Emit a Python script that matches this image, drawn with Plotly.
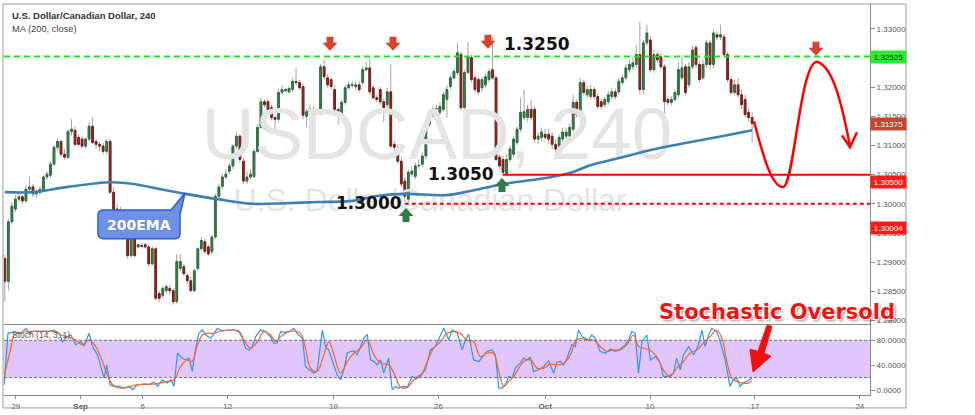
import plotly.graph_objects as go

# ---------------- data ----------------
bar_open = [
    1.2906, 1.2867, 1.2969, 1.2991, 1.3008, 1.3012, 1.3005, 1.3025, 1.3029, 1.3017,
    1.3020, 1.3025, 1.3046, 1.3049, 1.3068, 1.3097, 1.3107, 1.3085, 1.3080, 1.3124,
    1.3126, 1.3114, 1.3111, 1.3099, 1.3111, 1.3133, 1.3107, 1.3102, 1.3099, 1.3090,
    1.3107, 1.3020, 1.2991, 1.2983, 1.2986, 1.2954, 1.2911, 1.2940, 1.2926, 1.2928,
    1.2930, 1.2926, 1.2897, 1.2923, 1.2846, 1.2843, 1.2851, 1.2855, 1.2851, 1.2832,
    1.2889, 1.2892, 1.2877, 1.2868, 1.2851, 1.2889, 1.2923, 1.2935, 1.2926, 1.2918,
    1.2943, 1.3013, 1.3030, 1.3046, 1.3056, 1.3065, 1.3099, 1.3116, 1.3073, 1.3039,
    1.3046, 1.3047, 1.3090, 1.3131, 1.3175, 1.3175, 1.3165, 1.3148, 1.3145, 1.3191,
    1.3194, 1.3192, 1.3196, 1.3210, 1.3208, 1.3201, 1.3150, 1.3157, 1.3162, 1.3158,
    1.3157, 1.3235, 1.3216, 1.3213, 1.3196, 1.3162, 1.3150, 1.3174, 1.3199, 1.3203,
    1.3201, 1.3204, 1.3208, 1.3230, 1.3233, 1.3199, 1.3182, 1.3196, 1.3175, 1.3170,
    1.3192, 1.3102, 1.3094, 1.3073, 1.3039, 1.3008, 1.3051, 1.3047, 1.3065, 1.3068,
    1.3082, 1.3136, 1.3153, 1.3162, 1.3157, 1.3162, 1.3179, 1.3201, 1.3216, 1.3225,
    1.3256, 1.3165, 1.3225, 1.3251, 1.3216, 1.3213, 1.3199, 1.3204, 1.3213, 1.3230,
    1.3216, 1.3080, 1.3076, 1.3051, 1.3076, 1.3085, 1.3105, 1.3128, 1.3148, 1.3148,
    1.3162, 1.3162, 1.3111, 1.3114, 1.3119, 1.3119, 1.3116, 1.3102, 1.3099, 1.3111,
    1.3116, 1.3116, 1.3128, 1.3174, 1.3153, 1.3208, 1.3187, 1.3184, 1.3196, 1.3184,
    1.3175, 1.3170, 1.3175, 1.3184, 1.3192, 1.3192, 1.3208, 1.3216, 1.3230, 1.3235,
    1.3239, 1.3256, 1.3196, 1.3276, 1.3281, 1.3230, 1.3256, 1.3252, 1.3235, 1.3179,
    1.3174, 1.3179, 1.3187, 1.3216, 1.3235, 1.3204, 1.3235, 1.3268, 1.3239, 1.3216,
    1.3239, 1.3276, 1.3239, 1.3290, 1.3286, 1.3286, 1.3256, 1.3213, 1.3191, 1.3204,
    1.3187, 1.3179, 1.3157, 1.3148]
bar_high = [
    1.2913, 1.2974, 1.3003, 1.3015, 1.3018, 1.3015, 1.3032, 1.3046, 1.3034, 1.3025,
    1.3030, 1.3049, 1.3056, 1.3073, 1.3100, 1.3112, 1.3111, 1.3094, 1.3128, 1.3145,
    1.3133, 1.3119, 1.3116, 1.3114, 1.3140, 1.3148, 1.3111, 1.3107, 1.3105, 1.3111,
    1.3111, 1.3029, 1.3000, 1.2995, 1.2991, 1.2960, 1.2947, 1.2943, 1.2931, 1.2933,
    1.2933, 1.2930, 1.2928, 1.2926, 1.2851, 1.2858, 1.2863, 1.2860, 1.2855, 1.2914,
    1.2914, 1.2896, 1.2882, 1.2875, 1.2889, 1.2926, 1.2943, 1.2940, 1.2930, 1.2947,
    1.3017, 1.3034, 1.3051, 1.3059, 1.3070, 1.3102, 1.3124, 1.3119, 1.3080, 1.3056,
    1.3059, 1.3094, 1.3136, 1.3182, 1.3179, 1.3181, 1.3170, 1.3153, 1.3196, 1.3203,
    1.3199, 1.3201, 1.3215, 1.3233, 1.3213, 1.3206, 1.3163, 1.3169, 1.3167, 1.3163,
    1.3240, 1.3247, 1.3222, 1.3218, 1.3204, 1.3165, 1.3179, 1.3204, 1.3210, 1.3210,
    1.3210, 1.3210, 1.3235, 1.3244, 1.3251, 1.3204, 1.3187, 1.3201, 1.3182, 1.3199,
    1.3239, 1.3107, 1.3102, 1.3080, 1.3046, 1.3059, 1.3063, 1.3071, 1.3076, 1.3088,
    1.3141, 1.3162, 1.3167, 1.3170, 1.3174, 1.3192, 1.3204, 1.3222, 1.3233, 1.3276,
    1.3261, 1.3230, 1.3278, 1.3256, 1.3222, 1.3218, 1.3218, 1.3223, 1.3232, 1.3286,
    1.3220, 1.3085, 1.3082, 1.3085, 1.3100, 1.3116, 1.3133, 1.3182, 1.3196, 1.3170,
    1.3179, 1.3167, 1.3123, 1.3131, 1.3128, 1.3128, 1.3123, 1.3111, 1.3119, 1.3131,
    1.3131, 1.3138, 1.3187, 1.3179, 1.3216, 1.3213, 1.3203, 1.3204, 1.3201, 1.3189,
    1.3181, 1.3184, 1.3194, 1.3199, 1.3198, 1.3216, 1.3223, 1.3240, 1.3247, 1.3251,
    1.3273, 1.3312, 1.3281, 1.3307, 1.3288, 1.3264, 1.3261, 1.3259, 1.3240, 1.3184,
    1.3184, 1.3196, 1.3244, 1.3256, 1.3240, 1.3244, 1.3271, 1.3273, 1.3244, 1.3247,
    1.3281, 1.3281, 1.3298, 1.3295, 1.3307, 1.3291, 1.3261, 1.3218, 1.3213, 1.3216,
    1.3196, 1.3187, 1.3165, 1.3158]
bar_low = [
    1.2832, 1.2851, 1.2964, 1.2986, 1.3003, 1.3000, 1.3001, 1.3020, 1.3012, 1.3010,
    1.3015, 1.3022, 1.3041, 1.3044, 1.3065, 1.3092, 1.3080, 1.3076, 1.3076, 1.3117,
    1.3099, 1.3099, 1.3095, 1.3095, 1.3107, 1.3102, 1.3094, 1.3090, 1.3085, 1.3085,
    1.3017, 1.2983, 1.2974, 1.2977, 1.2948, 1.2906, 1.2908, 1.2908, 1.2923, 1.2925,
    1.2923, 1.2892, 1.2894, 1.2834, 1.2831, 1.2838, 1.2846, 1.2844, 1.2827, 1.2829,
    1.2884, 1.2877, 1.2863, 1.2848, 1.2848, 1.2885, 1.2919, 1.2914, 1.2911, 1.2913,
    1.2940, 1.3008, 1.3025, 1.3042, 1.3051, 1.3059, 1.3094, 1.3071, 1.3034, 1.3034,
    1.3042, 1.3044, 1.3087, 1.3128, 1.3165, 1.3158, 1.3143, 1.3128, 1.3141, 1.3187,
    1.3191, 1.3189, 1.3192, 1.3203, 1.3196, 1.3145, 1.3131, 1.3153, 1.3155, 1.3152,
    1.3152, 1.3213, 1.3199, 1.3196, 1.3157, 1.3136, 1.3145, 1.3170, 1.3196, 1.3199,
    1.3196, 1.3191, 1.3203, 1.3227, 1.3187, 1.3179, 1.3174, 1.3170, 1.3140, 1.3165,
    1.3095, 1.3090, 1.3068, 1.3029, 1.3003, 1.3003, 1.3046, 1.3042, 1.3059, 1.3063,
    1.3076, 1.3131, 1.3148, 1.3157, 1.3152, 1.3157, 1.3148, 1.3196, 1.3213, 1.3220,
    1.3160, 1.3162, 1.3222, 1.3208, 1.3191, 1.3187, 1.3192, 1.3199, 1.3208, 1.3213,
    1.3073, 1.3059, 1.3047, 1.3047, 1.3071, 1.3080, 1.3100, 1.3123, 1.3143, 1.3141,
    1.3143, 1.3105, 1.3102, 1.3107, 1.3109, 1.3102, 1.3094, 1.3076, 1.3090, 1.3105,
    1.3111, 1.3111, 1.3123, 1.3148, 1.3148, 1.3186, 1.3182, 1.3179, 1.3179, 1.3162,
    1.3162, 1.3165, 1.3170, 1.3179, 1.3179, 1.3187, 1.3203, 1.3211, 1.3225, 1.3230,
    1.3233, 1.3187, 1.3187, 1.3271, 1.3225, 1.3225, 1.3242, 1.3230, 1.3140, 1.3169,
    1.3169, 1.3174, 1.3182, 1.3213, 1.3186, 1.3199, 1.3230, 1.3233, 1.3208, 1.3213,
    1.3233, 1.3230, 1.3233, 1.3281, 1.3281, 1.3251, 1.3208, 1.3186, 1.3186, 1.3182,
    1.3162, 1.3148, 1.3141, 1.3105]
bar_close = [
    1.2867, 1.2969, 1.2996, 1.3008, 1.3012, 1.3005, 1.3025, 1.3029, 1.3017, 1.3020,
    1.3025, 1.3046, 1.3051, 1.3068, 1.3097, 1.3107, 1.3085, 1.3080, 1.3124, 1.3128,
    1.3102, 1.3102, 1.3099, 1.3111, 1.3133, 1.3105, 1.3102, 1.3099, 1.3090, 1.3107,
    1.3020, 1.2988, 1.2979, 1.2986, 1.2954, 1.2911, 1.2943, 1.2911, 1.2930, 1.2927,
    1.2926, 1.2897, 1.2923, 1.2838, 1.2838, 1.2855, 1.2858, 1.2851, 1.2832, 1.2901,
    1.2901, 1.2880, 1.2868, 1.2851, 1.2885, 1.2923, 1.2937, 1.2918, 1.2914, 1.2943,
    1.3013, 1.3029, 1.3046, 1.3051, 1.3065, 1.3099, 1.3116, 1.3076, 1.3039, 1.3046,
    1.3051, 1.3090, 1.3131, 1.3175, 1.3170, 1.3162, 1.3148, 1.3145, 1.3191, 1.3196,
    1.3196, 1.3198, 1.3210, 1.3208, 1.3199, 1.3152, 1.3158, 1.3162, 1.3158, 1.3157,
    1.3235, 1.3218, 1.3204, 1.3201, 1.3162, 1.3150, 1.3174, 1.3199, 1.3204, 1.3204,
    1.3204, 1.3196, 1.3230, 1.3233, 1.3192, 1.3182, 1.3179, 1.3175, 1.3165, 1.3192,
    1.3099, 1.3097, 1.3073, 1.3034, 1.3013, 1.3054, 1.3056, 1.3065, 1.3066, 1.3082,
    1.3136, 1.3157, 1.3162, 1.3163, 1.3167, 1.3187, 1.3196, 1.3216, 1.3227, 1.3259,
    1.3165, 1.3225, 1.3252, 1.3213, 1.3196, 1.3192, 1.3213, 1.3218, 1.3227, 1.3216,
    1.3076, 1.3065, 1.3054, 1.3076, 1.3094, 1.3111, 1.3128, 1.3157, 1.3158, 1.3162,
    1.3148, 1.3111, 1.3116, 1.3123, 1.3114, 1.3111, 1.3102, 1.3094, 1.3114, 1.3123,
    1.3123, 1.3131, 1.3174, 1.3153, 1.3208, 1.3191, 1.3196, 1.3196, 1.3184, 1.3167,
    1.3167, 1.3179, 1.3187, 1.3192, 1.3184, 1.3210, 1.3216, 1.3233, 1.3239, 1.3242,
    1.3256, 1.3196, 1.3276, 1.3293, 1.3230, 1.3256, 1.3247, 1.3235, 1.3175, 1.3174,
    1.3179, 1.3191, 1.3230, 1.3233, 1.3191, 1.3235, 1.3264, 1.3239, 1.3213, 1.3239,
    1.3276, 1.3239, 1.3293, 1.3286, 1.3290, 1.3256, 1.3213, 1.3191, 1.3204, 1.3187,
    1.3170, 1.3153, 1.3148, 1.31375]

# 200 moving average (bar position, value)
ma_pos = [0, 8.3, 17.9, 30.2, 36.7, 44.4, 51.5, 60.6, 70.6, 80.0, 89.4, 99.1, 105.6,
          113.6, 126.1, 132.7, 142.1, 151.8, 158.3, 161.7, 166.3, 176.0, 185.4, 194.8,
          204.4, 213.0]
ma_val = [1.3020, 1.3020, 1.3029, 1.3037, 1.3034, 1.3025, 1.3017, 1.3008, 1.3000, 1.3001,
          1.3003, 1.3005, 1.3013, 1.3017, 1.3015, 1.3022, 1.3034, 1.3042, 1.3049, 1.3054,
          1.3065, 1.3080, 1.3094, 1.3105, 1.3116, 1.3126]

# Stochastic %K
stoch_k_pos = [
    -0.2, 0.9, 2.7, 4.6, 6.0, 6.9, 8.4, 10.3, 12.2, 14.0,
    15.5, 16.4, 17.8, 18.8, 20.2, 21.6, 22.6, 24.0, 25.0, 26.4,
    27.3, 28.3, 29.0, 30.0, 31.1, 32.6, 34.0, 35.4, 36.4, 37.8,
    39.7, 41.1, 42.5, 43.5, 44.9, 46.3, 47.3, 48.2, 49.2, 50.6,
    51.5, 52.5, 53.4, 54.4, 55.3, 56.3, 57.2, 58.7, 59.6, 60.6,
    62.0, 63.4, 65.3, 66.7, 67.7, 68.6, 69.6, 70.5, 71.5, 72.9,
    74.3, 75.7, 76.7, 77.6, 78.6, 80.0, 81.4, 82.4, 83.3, 84.8,
    85.7, 86.7, 88.1, 89.0, 90.5, 91.4, 92.3, 93.8, 94.7, 95.7,
    96.6, 97.6, 98.5, 99.5, 100.4, 101.4, 102.3, 103.3, 104.2, 105.2,
    106.1, 107.1, 108.0, 109.4, 110.4, 111.3, 112.3, 113.7, 114.7, 116.1,
    117.0, 118.5, 119.9, 121.3, 122.7, 124.2, 125.1, 126.0, 126.5, 127.5,
    128.9, 130.3, 131.3, 132.2, 133.6, 135.1, 137.4, 138.9, 139.8, 140.8,
    141.7, 142.7, 143.6, 144.6, 145.5, 146.9, 147.9, 148.8, 149.8, 150.7,
    152.2, 153.6, 155.0, 156.4, 157.4, 158.3, 159.3, 160.2, 161.6, 162.6,
    163.5, 164.5, 165.4, 166.4, 167.3, 168.3, 169.7, 171.1, 172.6, 174.0,
    175.4, 176.8, 177.8, 178.7, 179.7, 180.6, 181.6, 183.0, 184.0, 185.4,
    186.8, 187.7, 189.2, 190.6, 191.5, 192.5, 193.4, 194.9, 196.3, 197.7,
    198.7, 199.6, 200.6, 201.5, 202.9, 203.9, 205.3, 206.7, 207.7, 208.6,
    209.6, 210.5, 211.5, 212.9]
stoch_k = [
    8.5, 91.2, 93.9, 91.2, 99.2, 91.2, 94.9, 93.9, 93.9, 96.5,
    91.2, 77.9, 85.9, 88.5, 72.5, 77.9, 71.5, 91.2, 69.9, 56.5,
    40.5, 19.2, 40.5, 8.5, 5.9, 5.9, 3.2, 5.9, 0.5, 8.5,
    9.6, 8.5, 12.8, 5.9, 16.5, 11.2, 16.5, 5.9, 59.2, 51.2,
    48.5, 51.2, 29.9, 67.2, 91.2, 96.5, 88.5, 83.2, 91.2, 99.2,
    94.9, 96.5, 96.5, 93.9, 83.2, 67.2, 64.5, 69.9, 85.9, 96.5,
    93.9, 85.9, 75.2, 75.2, 93.9, 92.8, 94.9, 99.2, 91.2, 83.2,
    37.9, 32.5, 27.2, 29.9, 96.5, 69.9, 64.5, 40.5, 24.5, 16.5,
    32.5, 59.2, 61.9, 62.9, 56.5, 69.9, 83.2, 89.6, 48.5, 45.9,
    40.5, 48.5, 27.2, 51.2, 0.5, 5.9, 3.2, 5.9, 4.3, 21.9,
    19.2, 24.5, 32.5, 64.5, 69.9, 88.5, 99.2, 88.5, 80.5, 96.5,
    92.8, 64.5, 80.5, 89.6, 48.5, 45.9, 61.9, 64.5, 56.5, 3.2,
    3.2, 8.5, 21.9, 19.2, 35.2, 43.2, 51.2, 48.5, 52.3, 29.9,
    32.5, 37.9, 46.9, 27.2, 44.8, 45.9, 40.5, 51.2, 72.5, 69.9,
    96.5, 85.9, 83.2, 80.5, 88.5, 83.2, 61.9, 59.2, 66.1, 61.9,
    66.1, 72.5, 80.5, 93.9, 91.2, 27.2, 77.9, 88.5, 48.5, 53.9,
    43.2, 21.9, 21.9, 27.2, 51.2, 32.5, 56.5, 69.9, 56.5, 72.5,
    96.5, 69.9, 88.5, 99.2, 93.9, 77.9, 48.5, 5.9, 16.5, 19.2,
    5.9, 11.2, 13.9, 19.2]

# Stochastic %D
stoch_d_pos = [
    -0.2, 1.7, 2.7, 4.6, 7.4, 11.2, 14.0, 16.0, 17.8, 20.2,
    22.1, 24.0, 25.9, 27.8, 29.2, 30.7, 32.6, 34.9, 36.8, 39.7,
    42.5, 45.4, 48.2, 50.1, 52.0, 53.4, 54.9, 56.3, 57.7, 59.6,
    61.5, 64.4, 66.7, 68.1, 70.0, 72.0, 73.8, 75.7, 77.2, 78.6,
    80.5, 82.4, 84.3, 85.7, 87.1, 89.0, 90.9, 92.4, 93.8, 95.7,
    97.6, 99.5, 101.4, 103.3, 105.2, 107.1, 109.4, 111.3, 112.8, 114.7,
    116.6, 118.5, 120.4, 122.2, 124.2, 126.0, 128.0, 129.8, 131.7, 133.6,
    135.5, 137.4, 139.3, 140.8, 142.2, 143.6, 145.0, 146.5, 147.9, 149.8,
    151.7, 153.6, 155.5, 157.4, 159.3, 161.2, 162.6, 164.0, 165.9, 167.8,
    169.7, 171.6, 173.5, 175.4, 177.3, 179.2, 180.6, 182.0, 183.9, 185.8,
    187.7, 189.6, 191.5, 193.4, 195.3, 197.2, 199.1, 201.0, 202.9, 204.4,
    205.8, 207.2, 208.6, 210.5, 211.9, 212.9]
stoch_d = [
    21.9, 67.2, 88.5, 92.8, 93.9, 94.9, 93.9, 88.5, 85.9, 80.5,
    72.5, 80.5, 69.9, 45.9, 24.5, 8.5, 3.2, 4.3, 7.5, 9.6,
    9.6, 12.8, 16.5, 37.9, 48.5, 45.9, 72.5, 88.5, 91.2, 91.2,
    94.9, 96.5, 94.9, 80.5, 67.2, 77.9, 93.9, 88.5, 77.9, 85.9,
    92.8, 94.9, 91.2, 67.2, 35.2, 29.9, 56.5, 77.9, 56.5, 27.2,
    45.9, 59.2, 67.2, 80.5, 56.5, 43.2, 40.5, 21.9, 4.3, 4.3,
    16.5, 21.9, 45.9, 67.2, 77.9, 91.2, 93.9, 91.2, 80.5, 77.9,
    53.9, 59.2, 59.2, 29.9, 5.9, 13.9, 21.9, 35.2, 45.9, 48.5,
    35.2, 35.2, 41.6, 40.5, 43.2, 56.5, 77.9, 83.2, 80.5, 80.5,
    69.9, 61.9, 64.5, 64.5, 72.5, 88.5, 69.9, 67.2, 64.5, 53.9,
    32.5, 21.9, 35.2, 45.9, 59.2, 64.5, 75.2, 85.9, 96.5, 83.2,
    45.9, 19.2, 13.9, 11.2, 11.2, 14.9]

date_tick_pos = [3.1, 21.6, 39.3, 63.5, 93.7, 123.6, 154.0, 183.9, 213.8, 243.7]
date_tick_text = ["29", "<b>Sep</b>", "6", "12", "19", "26", "<b>Oct</b>", "10", "17", "24"]
price_ticks = [1.280, 1.285, 1.290, 1.295, 1.300, 1.305, 1.310, 1.315, 1.320, 1.325, 1.330]
stoch_ticks = [0, 40, 80]
stoch_band = [20, 80]

resistance_level = 1.32525
support_level = 1.3050
floor_level = 1.3000
last_price = 1.31375
floor_label_price = 1.30004
support_start_bar = 142
floor_start_bar = 114

# ---------------- layout geometry (pixels of the 975x415 picture) ----------------
L_PX, R_PX, T_PX, B_PX = 4, 870, 4, 397
W_PX, H_PX = R_PX - L_PX, B_PX - T_PX
SPLIT_PX = 326
split = (B_PX - SPLIT_PX) / H_PX
x_range = [-0.25, 246.6]
p_range = [1.27932, 1.33427]
s_range = [-8, 105.6]


def pp(x, y):
    return f"{(x - L_PX) / W_PX:.5f},{(B_PX - y) / H_PX:.5f}"


def poly(points):
    s = "M" + pp(*points[0])
    for p in points[1:]:
        s += " L" + pp(*p)
    return s + " Z"


def down_arrow(cx, top):
    return poly([(cx - 3.5, top), (cx + 3.5, top), (cx + 3.5, top + 6), (cx + 7.5, top + 6),
                 (cx, top + 14), (cx - 7.5, top + 6), (cx - 3.5, top + 6)])


def up_arrow(cx, top):
    return poly([(cx, top), (cx + 7.5, top + 8), (cx + 3.5, top + 8), (cx + 3.5, top + 14),
                 (cx - 3.5, top + 14), (cx - 3.5, top + 8), (cx - 7.5, top + 8)])


def paper_x(x):
    return (x - L_PX) / W_PX


def paper_y(y):
    return (B_PX - y) / H_PX


fig = go.Figure()

# watermark (drawn first, under the candles)
wm_x = (x_range[0] + x_range[1]) / 2
span = p_range[1] - p_range[0]
fig.add_trace(go.Scatter(
    x=[wm_x], y=[p_range[1] - span * (141 - T_PX) / (SPLIT_PX - T_PX)], mode="text",
    text=["USDCAD, 240"], textposition="middle center",
    textfont=dict(family="Liberation Sans", size=73, color="#e4e4e4"),
    hoverinfo="skip", showlegend=False))
fig.add_trace(go.Scatter(
    x=[x_range[0] + (x_range[1] - x_range[0]) * (430 - L_PX) / W_PX],
    y=[p_range[1] - span * (204 - T_PX) / (SPLIT_PX - T_PX)], mode="text",
    text=["U.S. Dollar/Canadian Dollar"], textposition="middle center",
    textfont=dict(family="Liberation Sans", size=32, color="#e4e4e4"),
    hoverinfo="skip", showlegend=False))

bar_pos = list(range(len(bar_close)))

# wicks
fig.add_trace(go.Candlestick(
    x=bar_pos, open=bar_open, high=bar_high, low=bar_low, close=bar_close,
    increasing=dict(line=dict(color="#a3a3a3", width=1), fillcolor="rgba(0,0,0,0)"),
    decreasing=dict(line=dict(color="#a3a3a3", width=1), fillcolor="rgba(0,0,0,0)"),
    hoverinfo="skip", showlegend=False))
# bodies
body_top = [max(o, c) for o, c in zip(bar_open, bar_close)]
body_bot = [min(o, c) for o, c in zip(bar_open, bar_close)]
fig.add_trace(go.Candlestick(
    x=bar_pos, open=bar_open, high=body_top, low=body_bot, close=bar_close,
    increasing=dict(line=dict(color="#2c6b3c", width=1), fillcolor="#3d7f4f"),
    decreasing=dict(line=dict(color="#7a1d17", width=1), fillcolor="#8e2a22"),
    hoverinfo="skip", showlegend=False))

# moving average
fig.add_trace(go.Scatter(x=ma_pos, y=ma_val, mode="lines", line=dict(color="#3d80b4", width=2.6, shape="spline"),
                         hoverinfo="skip", showlegend=False))

# stochastic
fig.add_trace(go.Scatter(x=stoch_k_pos, y=stoch_k, mode="lines", xaxis="x2", yaxis="y2",
                         line=dict(color="#2f95f2", width=1.2), hoverinfo="skip", showlegend=False))
fig.add_trace(go.Scatter(x=stoch_d_pos, y=stoch_d, mode="lines", xaxis="x2", yaxis="y2",
                         line=dict(color="#f2662a", width=1.2, shape="spline"), hoverinfo="skip", showlegend=False))

shapes = []
# stochastic band
shapes.append(dict(type="rect", xref="x2", yref="y2", x0=x_range[0], x1=x_range[1],
                   y0=stoch_band[0], y1=stoch_band[1], fillcolor="#e2c5fa", line=dict(width=0), layer="below"))
for lvl in stoch_band:
    shapes.append(dict(type="line", xref="x2", yref="y2", x0=x_range[0], x1=x_range[1], y0=lvl, y1=lvl,
                       line=dict(color="#6f6f6f", width=1, dash="3px,2px")))
# horizontal levels
shapes.append(dict(type="line", xref="x", yref="y", x0=x_range[0], x1=x_range[1],
                   y0=resistance_level, y1=resistance_level, line=dict(color="#1ee61e", width=2, dash="6px,4px")))
shapes.append(dict(type="line", xref="x", yref="y", x0=support_start_bar, x1=x_range[1],
                   y0=support_level, y1=support_level, line=dict(color="#ff0000", width=2)))
shapes.append(dict(type="line", xref="x", yref="y", x0=floor_start_bar, x1=x_range[1],
                   y0=floor_level, y1=floor_level, line=dict(color="#ff0000", width=2, dash="4px,3px")))

# marker arrows
for cx, top in [(330, 37), (393, 37), (488, 35), (816, 42)]:
    shapes.append(dict(type="path", xref="paper", yref="paper", path=down_arrow(cx, top),
                       fillcolor="#d6432f", line=dict(width=0)))
for cx, top in [(406, 209), (502, 179)]:
    shapes.append(dict(type="path", xref="paper", yref="paper", path=up_arrow(cx, top),
                       fillcolor="#2e7a4a", line=dict(width=0)))

# hand-drawn projection curve
curve = ("M" + pp(754, 122) + " C" + pp(762, 152) + " " + pp(771, 188) + " " + pp(783, 188)
         + " C" + pp(794, 188) + " " + pp(800, 62) + " " + pp(817, 62)
         + " C" + pp(833, 66) + " " + pp(842, 105) + " " + pp(850, 147))
shapes.append(dict(type="path", xref="paper", yref="paper", path=curve, line=dict(color="#ff0000", width=2.5)))
shapes.append(dict(type="path", xref="paper", yref="paper",
                   path="M" + pp(842, 136) + " L" + pp(850, 148) + " L" + pp(857, 133),
                   line=dict(color="#ff0000", width=2.5)))

# 200EMA callout
callout = ("M" + pp(104, 211) + " L" + pp(171, 211) + " L" + pp(185, 194) + " L" + pp(180, 216)
           + " L" + pp(180, 235) + " Q" + pp(180, 240) + " " + pp(175, 240)
           + " L" + pp(104, 240) + " Q" + pp(98, 240) + " " + pp(98, 235)
           + " L" + pp(98, 216) + " Q" + pp(98, 211) + " " + pp(104, 211) + " Z")
shapes.append(dict(type="path", xref="paper", yref="paper", path=callout,
                   fillcolor="#6d91e4", line=dict(color="#2f5fd2", width=1.5)))

# oversold pointer arrow
shapes.append(dict(type="path", xref="paper", yref="paper",
                   path=poly([(767, 327), (772, 328), (764, 355), (771, 358), (753, 374), (750, 351), (758, 353)]),
                   fillcolor="#f01010", line=dict(color="#f01010", width=1)))

# outer frame
shapes.append(dict(type="rect", xref="paper", yref="paper", x0=paper_x(3), x1=paper_x(906),
                   y0=paper_y(410), y1=paper_y(4), line=dict(color="#9a9a9a", width=1)))

annotations = []
tick_font = dict(family="Liberation Sans", size=8, color="#555555")
annotations.append(dict(xref="paper", yref="paper", x=paper_x(10), y=paper_y(16), xanchor="left", yanchor="middle",
                        text="<b>U.S. Dollar/Canadian Dollar, 240</b>", showarrow=False,
                        font=dict(family="Liberation Sans", size=9.5, color="#333333")))
annotations.append(dict(xref="paper", yref="paper", x=paper_x(10), y=paper_y(29), xanchor="left", yanchor="middle",
                        text="MA (200, close)", showarrow=False,
                        font=dict(family="Liberation Sans", size=9.3, color="#444444")))
annotations.append(dict(xref="paper", yref="paper", x=paper_x(10), y=paper_y(337), xanchor="left", yanchor="middle",
                        text="Stoch (14, 3, 1)", showarrow=False,
                        font=dict(family="Liberation Sans", size=8.5, color="#555555")))

big = dict(family="DejaVu Sans", size=17, color="#111111")
annotations.append(dict(xref="paper", yref="paper", x=paper_x(502), y=paper_y(44), xanchor="left", yanchor="middle",
                        text="<b>1.3250</b>", showarrow=False, font=big))
annotations.append(dict(xref="paper", yref="paper", x=paper_x(426), y=paper_y(175), xanchor="left", yanchor="middle",
                        text="<b>1.3050</b>", showarrow=False, font=big))
annotations.append(dict(xref="paper", yref="paper", x=paper_x(334), y=paper_y(204), xanchor="left", yanchor="middle",
                        text="<b>1.3000</b>", showarrow=False, font=big))
annotations.append(dict(xref="paper", yref="paper", x=paper_x(139), y=paper_y(226), xanchor="center", yanchor="middle",
                        text="<b>200EMA</b>", showarrow=False,
                        font=dict(family="DejaVu Sans", size=14, color="#ffffff")))
annotations.append(dict(xref="paper", yref="paper", x=paper_x(777), y=paper_y(314), xanchor="center", yanchor="middle",
                        text="<b>Stochastic Oversold</b>", showarrow=False,
                        font=dict(family="DejaVu Sans", size=21, color="#f01414",
                                  shadow="-1px -1px 0 #fff, 1px -1px 0 #fff, -1px 1px 0 #fff, 1px 1px 0 #fff, 2px 2px 3px rgba(0,0,0,0.45)")))

# price labels on the axis
for price, text, bg, fg, shift in [
        (resistance_level, "1.32525", "#2fe82f", "#0b2e0b", 0),
        (last_price, "1.31375", "#c64632", "#ffffff", 0),
        (support_level, "1.30500", "#ff1a1a", "#ffffff", -7),
        (floor_label_price, "1.30004", "#ff1a1a", "#ffffff", -24)]:
    annotations.append(dict(xref="paper", yref="y", x=1.0, y=price, yshift=shift, xanchor="left", yanchor="middle",
                            text=text, showarrow=False, bgcolor=bg, width=33, height=10, borderpad=1,
                            font=dict(family="Liberation Sans", size=8, color=fg)))

fig.update_layout(
    width=975, height=415,
    margin=dict(l=L_PX, r=975 - R_PX, t=T_PX, b=415 - B_PX),
    paper_bgcolor="white", plot_bgcolor="white", showlegend=False,
    xaxis=dict(domain=[0, 1], range=x_range, anchor="y", showticklabels=False, ticks="",
               showgrid=False, zeroline=False, showline=True, linecolor="#8a8a8a", linewidth=1,
               rangeslider=dict(visible=False)),
    yaxis=dict(domain=[split, 1], range=p_range, side="right", anchor="x", tickvals=price_ticks,
               ticktext=[f"{v:.5f}" for v in price_ticks], ticks="outside", ticklen=4, tickcolor="#8a8a8a",
               showgrid=False, zeroline=False, showline=True, linecolor="#8a8a8a", tickfont=tick_font),
    xaxis2=dict(domain=[0, 1], range=x_range, anchor="y2", matches="x", tickvals=date_tick_pos,
                ticktext=date_tick_text, ticks="outside", ticklen=3, tickcolor="#8a8a8a",
                showgrid=False, zeroline=False, showline=True, linecolor="#8a8a8a", tickfont=tick_font),
    yaxis2=dict(domain=[0, split], range=s_range, side="right", anchor="x2", tickvals=stoch_ticks,
                ticktext=[f"{v:.4f}" for v in stoch_ticks], ticks="outside", ticklen=4, tickcolor="#8a8a8a",
                showgrid=False, zeroline=False, showline=True, linecolor="#8a8a8a", tickfont=tick_font),
    shapes=shapes, annotations=annotations,
)

fig.write_html("out.html", config={"displayModeBar": False},
               post_script="document.body.style.margin='0';document.body.style.overflow='hidden';")
